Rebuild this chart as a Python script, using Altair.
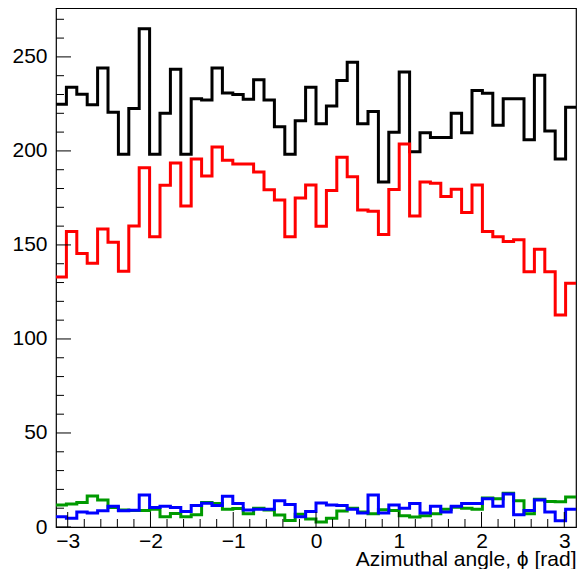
import altair as alt
import numpy as np
import pandas as pd

# ---- data (bin contents), 50 bins over [-pi, pi] ----
black = [224.8, 233.9, 230.1, 224.5, 244.1, 220.6, 198.2, 222.5, 264.9, 198.2,
         220.0, 243.4, 198.2, 227.8, 227.1, 244.1, 230.8, 230.0, 227.5, 237.8,
         227.1, 212.9, 198.2, 216.1, 233.9, 214.5, 223.9, 237.4, 247.2, 214.4,
         220.9, 183.5, 209.9, 241.9, 199.6, 209.7, 207.1, 207.1, 220.0, 209.7,
         232.1, 230.7, 213.7, 227.8, 227.8, 205.9, 240.3, 210.6, 195.7, 223.2]
red = [133.0, 157.1, 145.4, 140.3, 158.5, 151.4, 136.0, 160.1, 191.1, 154.4,
       181.7, 193.6, 170.7, 195.7, 186.7, 202.1, 195.1, 193.1, 193.1, 188.8,
       179.4, 173.9, 154.4, 175.0, 181.9, 159.9, 178.9, 196.6, 186.3, 168.6,
       167.9, 155.5, 179.5, 203.7, 165.4, 183.5, 182.8, 175.7, 179.6, 167.2,
       181.9, 157.1, 154.4, 151.8, 152.7, 135.8, 147.7, 135.8, 112.8, 129.6]
green = [11.7, 12.2, 13.0, 16.5, 14.4, 10.4, 9.0, 8.8, 8.8, 9.4,
         5.5, 7.2, 5.5, 6.5, 13.0, 12.5, 9.5, 9.8, 7.0, 10.0,
         9.0, 6.4, 3.5, 6.8, 4.3, 2.6, 4.7, 8.5, 10.0, 8.0,
         7.0, 9.2, 8.8, 6.0, 5.3, 6.0, 7.0, 9.5, 10.5, 10.0,
         9.4, 15.4, 15.0, 18.0, 14.0, 7.0, 14.7, 13.5, 13.4, 16.0]
blue = [5.5, 4.7, 8.0, 7.5, 8.6, 11.0, 8.6, 8.9, 17.0, 10.4,
        11.0, 10.4, 8.2, 11.5, 12.6, 11.5, 16.3, 12.5, 9.0, 9.5,
        9.5, 14.0, 12.0, 5.5, 8.2, 12.8, 11.7, 11.5, 9.5, 7.5,
        17.0, 7.5, 11.7, 10.0, 12.5, 7.5, 11.0, 8.0, 11.0, 12.5,
        12.5, 15.0, 11.0, 17.5, 6.5, 8.8, 14.4, 8.0, 3.3, 9.5]

series = [("black", black, "#000000"), ("red", red, "#ff0000"),
          ("green", green, "#009a00"), ("blue", blue, "#0000ff")]

x_major = [-3, -2, -1, 0, 1, 2, 3]
x_minor = [round(v, 1) for v in np.arange(-3.0, 3.01, 0.2) if round(v, 1) not in x_major]
y_major = [0, 50, 100, 150, 200, 250]
y_minor = [v for v in range(10, 271, 10) if v % 50 != 0]

X_LO, X_HI = -np.pi, np.pi
Y_HI = 276
W, H = 520, 519
FONT = "Liberation Sans"

xscale = alt.Scale(domain=[X_LO, X_HI], nice=False, zero=False)
yscale = alt.Scale(domain=[0, Y_HI], nice=False, zero=True)

xaxis = alt.Axis(values=x_major, ticks=False, domain=False, grid=False,
                 labelFontSize=21, labelFont=FONT, labelColor="black",
                 labelPadding=3, labelFlush=False,
                 title="Azimuthal angle, ϕ [rad]", titleFont=FONT,
                 titleFontSize=21, titleFontWeight="normal",
                 titleColor="black", titleAnchor="end",
                 titleAlign="right", titleBaseline="alphabetic", titleY=38)
yaxis = alt.Axis(values=y_major, ticks=False, domain=False, grid=False,
                 labelFontSize=21, labelFont=FONT, labelColor="black",
                 labelPadding=9, labelFlush=False, title=None)

nb = len(black)
edges = np.linspace(X_LO, X_HI, nb + 1)


def hist_df(vals):
    xs = list(edges)
    ys = list(vals) + [vals[-1]]
    return pd.DataFrame({"x": xs, "y": ys, "o": range(len(xs))})


layers = []
for name, vals, col in series:
    layers.append(
        alt.Chart(hist_df(vals)).mark_line(interpolate="step-after", color=col,
                                           strokeWidth=3, clip=True)
        .encode(x=alt.X("x:Q", scale=xscale, axis=xaxis),
                y=alt.Y("y:Q", scale=yscale, axis=yaxis),
                order="o:Q")
    )

# inward ticks (ROOT style)
ym = alt.Chart(pd.DataFrame({"y": y_major})).mark_rule(color="black", strokeWidth=1).encode(
    y=alt.Y("y:Q", scale=yscale, axis=yaxis), x=alt.value(0), x2=alt.value(15))
yn = alt.Chart(pd.DataFrame({"y": y_minor})).mark_rule(color="black", strokeWidth=1).encode(
    y=alt.Y("y:Q", scale=yscale, axis=yaxis), x=alt.value(0), x2=alt.value(8))
xm = alt.Chart(pd.DataFrame({"x": x_major})).mark_rule(color="black", strokeWidth=1).encode(
    x=alt.X("x:Q", scale=xscale, axis=xaxis), y=alt.value(H), y2=alt.value(H - 15))
xn = alt.Chart(pd.DataFrame({"x": x_minor})).mark_rule(color="black", strokeWidth=1).encode(
    x=alt.X("x:Q", scale=xscale, axis=xaxis), y=alt.value(H), y2=alt.value(H - 8))

chart = alt.layer(*layers, ym, yn, xm, xn).properties(
    width=W, height=H,
    autosize=alt.AutoSizeParams(type="none"),
    padding={"left": 48, "top": 0, "right": 1, "bottom": 42},
    background="white",
).configure_view(stroke="black", strokeWidth=1.2)

chart.save("out.html", embed_options={"renderer": "svg", "actions": False})
